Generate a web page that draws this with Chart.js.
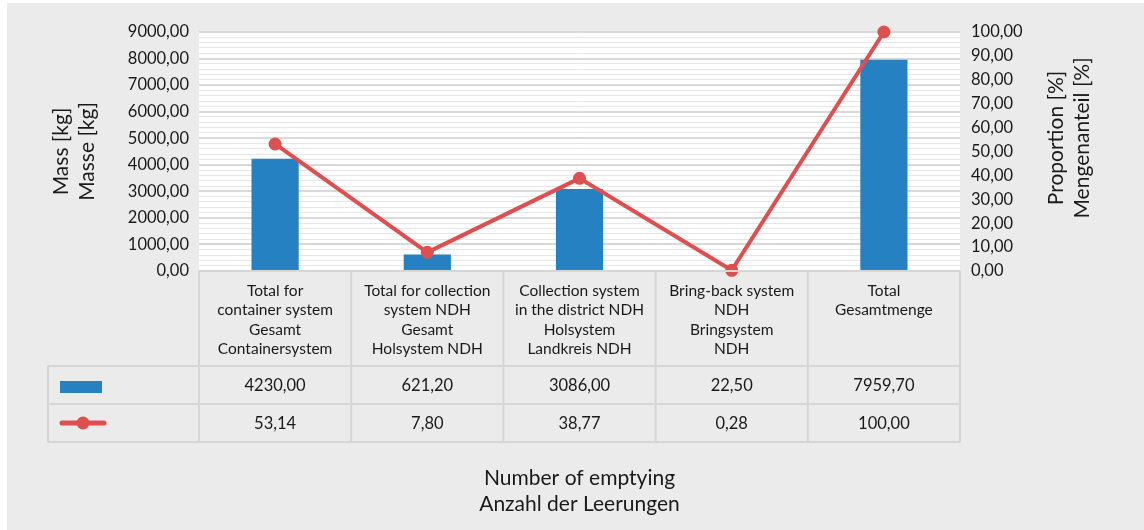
<!DOCTYPE html>
<html>
<head>
<meta charset="utf-8">
<script src="https://cdn.jsdelivr.net/npm/chart.js@4.4.1/dist/chart.umd.min.js"></script>
<style>
  html, body { margin: 0; padding: 0; background: #ffffff; }
  canvas { display: block; }
</style>
</head>
<body>
<canvas id="chart" width="1144" height="530"></canvas>
<script>
// Categories (English / German), one text line per entry
const categories = [
  ["Total for", "container system", "Gesamt", "Containersystem"],
  ["Total for collection", "system NDH", "Gesamt", "Holsystem NDH"],
  ["Collection system", "in the district NDH", "Holsystem", "Landkreis NDH"],
  ["Bring-back system", "NDH", "Bringsystem", "NDH"],
  ["Total", "Gesamtmenge"]
];

// Mass per system in kg (bars, left axis)
const massKg = [4230.00, 621.20, 3086.00, 22.50, 7959.70];

// Share of the total amount in % (line, right axis)
const sharePct = [53.14, 7.80, 38.77, 0.28, 100.00];

// Axis titles
const leftTitle = ["Mass [kg]", "Masse [kg]"];
const rightTitle = ["Proportion [%]", "Mengenanteil [%]"];
const bottomTitle = ["Number of emptying", "Anzahl der Leerungen"];

const FONT = "Lato, 'Noto Sans', sans-serif";
const TEXT = "#1a1a1a";
const BAR = "#2681c3";
const LINE = "#de4f4f";
const PANEL = "#ebebeb";
const RULE = "#d6d6d6";

const fmt = v => v.toFixed(2).replace(".", ",");

// Panel, plot background, data table and right axis title
const tablePlugin = {
  id: "dataTable",
  beforeDraw(chart) {
    const { ctx, chartArea: a } = chart;
    ctx.save();
    ctx.fillStyle = PANEL;
    ctx.fillRect(7, 3, chart.width - 7, chart.height - 3);
    ctx.fillStyle = "#ffffff";
    ctx.fillRect(a.left, a.top, a.right - a.left, a.bottom - a.top);
    ctx.restore();
  },
  afterDraw(chart) {
    const { ctx, chartArea: a } = chart;
    const x = chart.scales.x;
    const n = categories.length;
    const half = (x.getPixelForValue(1) - x.getPixelForValue(0)) / 2;
    const edges = [];
    for (let i = 0; i < n; i++) edges.push(x.getPixelForValue(i) - half);
    edges.push(x.getPixelForValue(n - 1) + half);

    const headTop = a.bottom;
    const row1 = 366, row2 = 404, rowEnd = 442;
    const legendLeft = 48;

    ctx.save();
    ctx.strokeStyle = RULE;
    ctx.lineWidth = 2;
    ctx.beginPath();
    // horizontal rules
    ctx.moveTo(a.left, headTop); ctx.lineTo(a.right, headTop);
    [row1, row2, rowEnd].forEach(y => { ctx.moveTo(legendLeft, y); ctx.lineTo(a.right, y); });
    // vertical rules
    edges.forEach(e => { ctx.moveTo(e, headTop); ctx.lineTo(e, rowEnd); });
    ctx.moveTo(legendLeft, row1); ctx.lineTo(legendLeft, rowEnd);
    ctx.stroke();

    // legend keys
    ctx.fillStyle = BAR;
    ctx.fillRect(60, 381, 42, 12);
    const ly = (row2 + rowEnd) / 2;
    ctx.strokeStyle = LINE;
    ctx.lineWidth = 5;
    ctx.lineCap = "round";
    ctx.beginPath(); ctx.moveTo(62, ly); ctx.lineTo(104, ly); ctx.stroke();
    ctx.fillStyle = LINE;
    ctx.beginPath(); ctx.arc(83, ly, 6.5, 0, Math.PI * 2); ctx.fill();

    // values
    ctx.fillStyle = TEXT;
    ctx.font = "16.5px " + FONT;
    ctx.textAlign = "center";
    ctx.textBaseline = "middle";
    for (let i = 0; i < n; i++) {
      const cx = x.getPixelForValue(i);
      ctx.fillText(fmt(massKg[i]), cx, (row1 + row2) / 2 + 1);
      ctx.fillText(fmt(sharePct[i]), cx, ly + 1);
    }

    // right axis title, read bottom to top
    const r = chart.scales.y1;
    ctx.font = "21px " + FONT;
    ctx.translate(r.right - 88, 138);
    ctx.rotate(-Math.PI / 2);
    ctx.fillText(rightTitle[0], 0, 0);
    ctx.fillText(rightTitle[1], 0, 26);
    ctx.restore();
  }
};

new Chart(document.getElementById("chart"), {
  data: {
    labels: categories,
    datasets: [
      {
        type: "line",
        data: sharePct,
        yAxisID: "y1",
        borderColor: LINE,
        backgroundColor: LINE,
        borderWidth: 4,
        pointRadius: 6.5,
        pointBorderWidth: 0,
        pointBackgroundColor: LINE,
        tension: 0,
        clip: false,
        order: 0
      },
      {
        type: "bar",
        data: massKg,
        yAxisID: "y",
        backgroundColor: BAR,
        borderWidth: 0,
        categoryPercentage: 1,
        barPercentage: 0.31,
        order: 1
      }
    ]
  },
  options: {
    responsive: false,
    animation: false,
    devicePixelRatio: 1,
    layout: { padding: { top: 32, left: 0, right: 0, bottom: 0 } },
    plugins: { legend: { display: false }, tooltip: { enabled: false } },
    scales: {
      x: {
        type: "category",
        grid: { display: false },
        border: { display: false },
        ticks: {
          color: TEXT,
          font: { family: FONT, size: 15.5, lineHeight: 1.26 },
          padding: 2,
          maxRotation: 0,
          autoSkip: false
        },
        title: {
          display: true,
          text: bottomTitle,
          color: TEXT,
          font: { family: FONT, size: 21, lineHeight: 1.238 },
          padding: { top: 0, bottom: 13 }
        },
        afterFit: s => { s.height = 259; }
      },
      y: {
        type: "linear",
        position: "left",
        min: 0,
        max: 9000,
        border: { display: false },
        grid: { color: "#d9d9d9", lineWidth: 2, drawTicks: false },
        ticks: {
          stepSize: 1000,
          padding: 10,
          color: TEXT,
          font: { family: FONT, size: 16.5 },
          callback: v => fmt(v)
        },
        title: {
          display: true,
          text: leftTitle,
          color: TEXT,
          font: { family: FONT, size: 21, lineHeight: 1.238 },
          padding: { top: 48.7, bottom: 0 }
        },
        afterFit: s => { s.width = 199; }
      },
      yMinor: {
        type: "linear",
        position: "left",
        min: 0,
        max: 9000,
        border: { display: false },
        grid: {
          drawTicks: false,
          lineWidth: 1,
          color: c => (c.tick && c.tick.value % 1000 === 0) ? "rgba(0,0,0,0)" : "#e7e7e7"
        },
        ticks: { stepSize: 200, display: false },
        afterFit: s => { s.width = 0; }
      },
      y1: {
        type: "linear",
        position: "right",
        min: 0,
        max: 100,
        border: { display: false },
        grid: { display: false, drawTicks: false },
        ticks: {
          stepSize: 10,
          padding: 11,
          color: TEXT,
          font: { family: FONT, size: 16.5 },
          callback: v => fmt(v)
        },
        afterFit: s => { s.width = 184; }
      }
    }
  },
  plugins: [tablePlugin]
});
</script>
</body>
</html>
